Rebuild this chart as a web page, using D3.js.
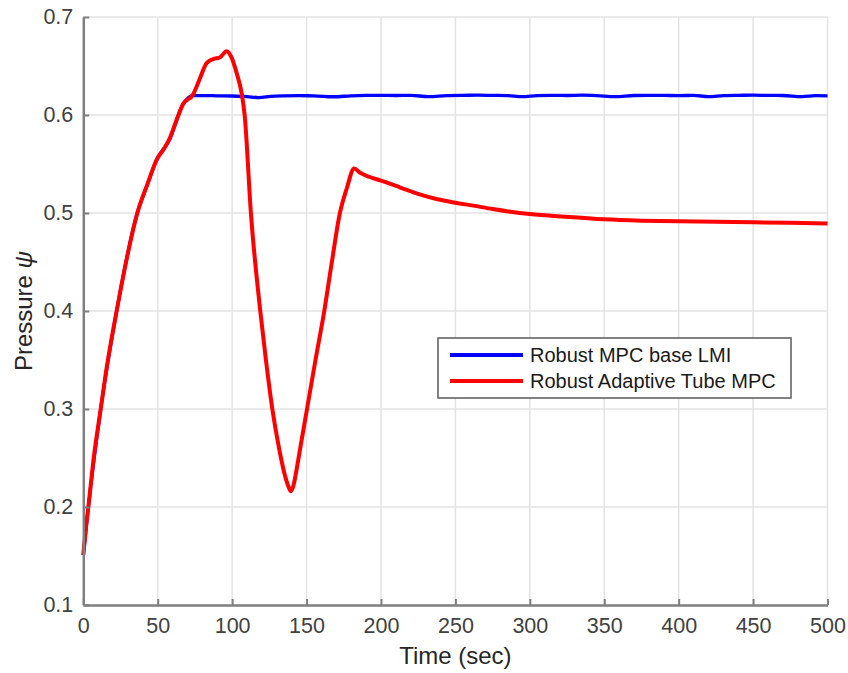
<!DOCTYPE html>
<html>
<head>
<meta charset="utf-8">
<script src="https://cdn.jsdelivr.net/npm/d3@7"></script>
<style>
  body { margin: 0; background: #fff; }
  text { font-family: "Liberation Sans", Arial, Helvetica, sans-serif; }
</style>
</head>
<body>
<svg id="chart" width="848" height="673"></svg>
<script>
// Time (sec) and pressure readings for each controller
var redT = [0, 1.5, 3.4, 7, 11.7, 16, 22.4, 29, 36.3, 43, 49.5, 54, 58, 62, 67, 73.8, 78, 82.9, 87.3, 92, 96.3,
	99.5, 103, 106.4, 108.4, 112.6, 118.9, 122.7, 127, 131.5, 135, 137.8, 139.5, 141.2, 143.5, 146.3, 150.3, 156, 161.9, 167, 172.4,
	177, 182, 186, 192, 200, 213, 226, 238, 250, 262, 275, 287, 300, 323, 350, 375, 400, 425, 450, 475, 500];
var redV = [0.151, 0.175, 0.2, 0.25, 0.3, 0.345, 0.4, 0.452, 0.5, 0.529, 0.555, 0.565, 0.576, 0.592, 0.611, 0.621, 0.636, 0.653, 0.657, 0.659, 0.665,
	0.659, 0.643, 0.622, 0.6, 0.5, 0.4, 0.35, 0.3, 0.26, 0.235, 0.221, 0.216, 0.222, 0.24, 0.265, 0.3, 0.35, 0.4, 0.45, 0.5,
	0.525, 0.5455, 0.541, 0.537, 0.533, 0.526, 0.519, 0.514, 0.5105, 0.5075, 0.504, 0.5013, 0.499, 0.4962, 0.4935, 0.4922, 0.4915, 0.491, 0.4905, 0.49, 0.4893];

var blueT = [0, 3.4, 11.7, 22.4, 36.3, 43, 49.5, 58, 67, 74, 80, 90, 100, 110, 118, 126, 135, 145, 155, 168, 180, 190, 200, 210, 220,
	232, 244, 255, 265, 275, 285, 295, 305, 315, 325, 335, 345, 357, 370, 380, 390, 400, 410, 420, 430, 440, 450, 460, 470,
	483, 492, 500];
var blueV = [0.151, 0.2, 0.3, 0.4, 0.5, 0.529, 0.555, 0.575, 0.611, 0.6198, 0.6198, 0.6196, 0.6194, 0.6188, 0.6178, 0.619, 0.6195, 0.6197, 0.6196, 0.6186, 0.6196, 0.62, 0.6201, 0.6199, 0.62,
	0.6188, 0.6198, 0.6201, 0.6202, 0.62, 0.6198, 0.6187, 0.6198, 0.62, 0.6199, 0.6202, 0.6198, 0.6188, 0.6199, 0.6201, 0.62, 0.6198, 0.62, 0.6188, 0.6198, 0.6201, 0.6202, 0.62, 0.6199,
	0.6188, 0.6197, 0.6196];

var xTicks = [0, 50, 100, 150, 200, 250, 300, 350, 400, 450, 500];
var yTicks = [0.1, 0.2, 0.3, 0.4, 0.5, 0.6, 0.7];
var legendNames = ["Robust MPC base LMI", "Robust Adaptive Tube MPC"];
var legendColors = ["#0000ff", "#ff0000"];

var svg = d3.select("#chart");
var margin = {left: 83.3, top: 17, right: 20.5, bottom: 68};
var width = 848 - margin.left - margin.right;
var height = 673 - margin.top - margin.bottom;

var x = d3.scaleLinear().domain([0, 500]).range([0, width]);
var y = d3.scaleLinear().domain([0.1, 0.7]).range([height, 0]);

var g = svg.append("g").attr("transform", "translate(" + margin.left + "," + margin.top + ")");

//Grid
g.append("g").selectAll("line").data(xTicks.slice(1)).enter().append("line")
	.attr("x1", d => x(d)).attr("x2", d => x(d))
	.attr("y1", 0).attr("y2", height)
	.attr("stroke", "#e3e3e3").attr("stroke-width", 1.5);
g.append("g").selectAll("line").data(yTicks.slice(1)).enter().append("line")
	.attr("x1", 0).attr("x2", width)
	.attr("y1", d => y(d)).attr("y2", d => y(d))
	.attr("stroke", "#e3e3e3").attr("stroke-width", 1.5);

//Lines
var blueLine = d3.line().x((d, i) => x(blueT[i])).y(d => y(d)).curve(d3.curveMonotoneX);
var redLine = d3.line().x((d, i) => x(redT[i])).y(d => y(d)).curve(d3.curveMonotoneX);

g.append("path").datum(blueV)
	.attr("d", blueLine)
	.attr("fill", "none").attr("stroke", "#0000ff").attr("stroke-width", 3.3)
	.attr("stroke-linejoin", "round");
g.append("path").datum(redV)
	.attr("d", redLine)
	.attr("fill", "none").attr("stroke", "#ff0000").attr("stroke-width", 4)
	.attr("stroke-linejoin", "round");

//Axes
var xAxis = g.append("g").attr("transform", "translate(0," + height + ")")
	.call(d3.axisBottom(x).tickValues(xTicks).tickSizeInner(-6).tickSizeOuter(0).tickPadding(13).tickFormat(d3.format("d")));
var yAxis = g.append("g")
	.call(d3.axisLeft(y).tickValues(yTicks).tickSizeInner(-6).tickSizeOuter(0).tickPadding(10).tickFormat(d3.format(".1f")));

[xAxis, yAxis].forEach(function(a) {
	a.select(".domain").attr("stroke", "#7f7f7f").attr("stroke-width", 2.5);
	a.selectAll(".tick line").attr("stroke", "#7f7f7f").attr("stroke-width", 2);
	a.selectAll(".tick text").attr("fill", "#404040").style("font-size", "21.5px")
		.style("font-family", '"Liberation Sans", Arial, sans-serif');
});

//Axis labels
svg.append("text")
	.attr("x", margin.left + width / 2).attr("y", 664)
	.attr("text-anchor", "middle")
	.attr("fill", "#262626").style("font-size", "24px")
	.text("Time (sec)");

var yl = svg.append("text")
	.attr("transform", "translate(32," + (margin.top + height / 2) + ") rotate(-90)")
	.attr("text-anchor", "middle")
	.attr("fill", "#262626").style("font-size", "24px");
yl.append("tspan").text("Pressure ");
yl.append("tspan").style("font-style", "italic").text("ψ");

//Legend
var legend = svg.append("g").attr("transform", "translate(438,338)");
legend.append("rect")
	.attr("width", 353).attr("height", 60)
	.attr("fill", "white").attr("stroke", "#5a5a5a").attr("stroke-width", 1.5);
var items = legend.selectAll(".item").data(legendNames).enter().append("g")
	.attr("class", "item")
	.attr("transform", (d, i) => "translate(0," + (17 + i * 26) + ")");
items.append("line")
	.attr("x1", 12).attr("x2", 85).attr("y1", 0).attr("y2", 0)
	.attr("stroke", (d, i) => legendColors[i]).attr("stroke-width", 4);
items.append("text")
	.attr("x", 92).attr("y", 7)
	.attr("fill", "#1a1a1a").style("font-size", "20px")
	.text(d => d);
</script>
</body>
</html>
